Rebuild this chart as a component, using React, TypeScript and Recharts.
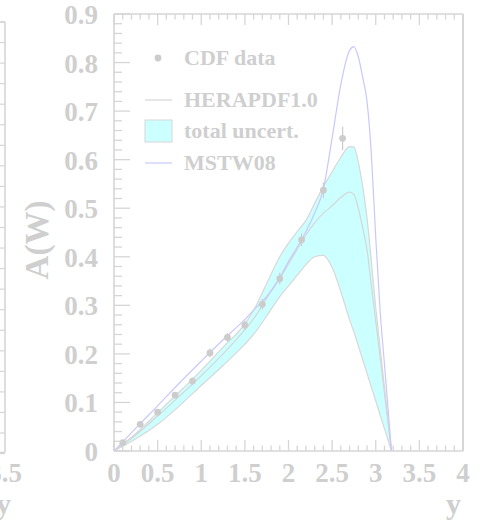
import React from 'react';
import { ComposedChart, XAxis, YAxis, Area, Line, Scatter, ErrorBar } from 'recharts';

// ---- data ----
const xGrid = [0, 0.25, 0.5, 0.75, 1.0, 1.25, 1.5, 1.6, 1.75, 1.9, 2.0, 2.1, 2.2, 2.3, 2.4, 2.5, 2.6, 2.7, 2.75, 2.8, 2.85, 2.9, 2.95, 3.0, 3.05, 3.1, 3.15, 3.18];
const bandLow = [0, 0.025, 0.055, 0.093, 0.135, 0.176, 0.22, 0.24, 0.278, 0.318, 0.34, 0.362, 0.384, 0.4, 0.403, 0.378, 0.328, 0.27, 0.245, 0.217, 0.188, 0.16, 0.131, 0.103, 0.074, 0.046, 0.017, 0];
const bandHigh = [0, 0.036, 0.079, 0.122, 0.166, 0.214, 0.262, 0.29, 0.345, 0.4, 0.428, 0.452, 0.475, 0.51, 0.545, 0.575, 0.605, 0.627, 0.626, 0.595, 0.545, 0.48, 0.39, 0.295, 0.213, 0.131, 0.049, 0];
const heraCentral = [0, 0.033, 0.072, 0.113, 0.155, 0.2, 0.25, 0.272, 0.315, 0.355, 0.385, 0.415, 0.445, 0.47, 0.49, 0.505, 0.522, 0.533, 0.528, 0.5, 0.46, 0.414, 0.34, 0.267, 0.193, 0.119, 0.044, 0];
const mstw08 = [0, 0.047, 0.093, 0.14, 0.185, 0.229, 0.271, 0.29, 0.318, 0.357, 0.39, 0.42, 0.452, 0.49, 0.54, 0.645, 0.755, 0.825, 0.833, 0.812, 0.77, 0.72, 0.61, 0.44, 0.289, 0.178, 0.067, 0];

const cdfRapidity = [0.1, 0.3, 0.5, 0.7, 0.9, 1.1, 1.3, 1.5, 1.7, 1.9, 2.15, 2.4, 2.62];
const cdfAsym = [0.017, 0.055, 0.08, 0.115, 0.144, 0.202, 0.234, 0.259, 0.302, 0.355, 0.435, 0.537, 0.644];
const cdfErr = [0.003, 0.004, 0.005, 0.006, 0.007, 0.009, 0.009, 0.01, 0.011, 0.012, 0.013, 0.016, 0.024];

const xTickLabels = ['0', '0.5', '1', '1.5', '2', '2.5', '3', '3.5', '4'];
const yTickLabels = ['0', '0.1', '0.2', '0.3', '0.4', '0.5', '0.6', '0.7', '0.8', '0.9'];

const curveData = xGrid.map((x, i) => ({
  x,
  band: [bandLow[i], bandHigh[i]],
  hera: heraCentral[i],
  mstw: mstw08[i],
}));
const cdfData = cdfRapidity.map((x, i) => ({ x, a: cdfAsym[i], err: cdfErr[i] }));

const xTicks: number[] = [];
for (let i = 0; i <= 40; i++) xTicks.push(i / 10);
const yTicks: number[] = [];
for (let i = 0; i <= 45; i++) yTicks.push(Math.round(i * 2) / 100);

// ---- style ----
const FONT = "'Liberation Serif','Times New Roman',serif";
const TEXT = '#cfcfcf';
const FRAME = '#d6d6d6';
const BAND_FILL = '#ccffff';
const BAND_EDGE = '#d8d8d8';
const HERA = '#d6d6d6';
const MSTW = '#c8c8ff';
const POINT = '#cccccc';

const near = (v: number, step: number) => Math.abs(v / step - Math.round(v / step)) < 1e-6;

const BottomTick = (p: any) => {
  const { x, y, payload } = p;
  const v = payload.value;
  const major = near(v, 0.5);
  return (
    <g>
      <line x1={x} x2={x} y1={y} y2={y - (major ? 11 : 5.5)} stroke={FRAME} strokeWidth={1.3} />
      {major && (
        <text x={x} y={y + 31} textAnchor="middle" fill={TEXT} fontFamily={FONT} fontWeight="bold" fontSize={27}>
          {xTickLabels[Math.round(v / 0.5)]}
        </text>
      )}
    </g>
  );
};
const TopTick = (p: any) => {
  const { x, y, payload } = p;
  const major = near(payload.value, 0.5);
  return <line x1={x} x2={x} y1={y} y2={y + (major ? 11 : 5.5)} stroke={FRAME} strokeWidth={1.3} />;
};
const LeftTick = (p: any) => {
  const { x, y, payload } = p;
  const v = payload.value;
  const major = near(v, 0.1);
  return (
    <g>
      <line x1={x} x2={x + (major ? 16 : 8)} y1={y} y2={y} stroke={FRAME} strokeWidth={1.3} />
      {major && (
        <text x={x - 16} y={y + 10} textAnchor="end" fill={TEXT} fontFamily={FONT} fontWeight="bold" fontSize={27}>
          {yTickLabels[Math.round(v / 0.1)]}
        </text>
      )}
    </g>
  );
};
const RightTick = (p: any) => {
  const { x, y, payload } = p;
  const major = near(payload.value, 0.1);
  return <line x1={x} x2={x - (major ? 16 : 8)} y1={y} y2={y} stroke={FRAME} strokeWidth={1.3} />;
};

const leftPanelTicks: number[] = [];
for (let i = 0; i <= 21; i++) leftPanelTicks.push(i);

export default function App() {
  return (
    <div style={{ position: 'absolute', left: 0, top: 0, width: 484, height: 524, background: '#fff', overflow: 'hidden' }}>
      <div style={{ position: 'absolute', left: 0, top: 0 }}>
        <ComposedChart width={484} height={524} data={curveData} margin={{ top: 0, right: 0, bottom: 0, left: 0 }}>
          <XAxis
            dataKey="x"
            type="number"
            domain={[0, 4]}
            ticks={xTicks}
            interval={0}
            height={73}
            tickSize={0}
            tickMargin={0}
            tickLine={false}
            tick={<BottomTick />}
            axisLine={{ stroke: FRAME, strokeWidth: 1.6 }}
          />
          <XAxis
            xAxisId="top"
            orientation="top"
            dataKey="x"
            type="number"
            domain={[0, 4]}
            ticks={xTicks}
            interval={0}
            height={14}
            tickSize={0}
            tickMargin={0}
            tickLine={false}
            tick={<TopTick />}
            axisLine={{ stroke: FRAME, strokeWidth: 1.6 }}
          />
          <YAxis
            type="number"
            domain={[0, 0.9]}
            ticks={yTicks}
            interval={0}
            width={114}
            tickSize={0}
            tickMargin={0}
            tickLine={false}
            tick={<LeftTick />}
            axisLine={{ stroke: FRAME, strokeWidth: 1.6 }}
          />
          <YAxis
            yAxisId="right"
            orientation="right"
            type="number"
            domain={[0, 0.9]}
            ticks={yTicks}
            interval={0}
            width={21}
            tickSize={0}
            tickMargin={0}
            tickLine={false}
            tick={<RightTick />}
            axisLine={{ stroke: FRAME, strokeWidth: 2 }}
          />
          <Area
            type="monotone"
            dataKey="band"
            fill={BAND_FILL}
            fillOpacity={1}
            stroke={BAND_EDGE}
            strokeWidth={1.2}
            isAnimationActive={false}
            dot={false}
            activeDot={false}
          />
          <Line type="monotone" dataKey="hera" stroke={HERA} strokeWidth={1.2} dot={false} activeDot={false} isAnimationActive={false} />
          <Line type="monotone" dataKey="mstw" stroke={MSTW} strokeWidth={1.2} dot={false} activeDot={false} isAnimationActive={false} />
          <Scatter data={cdfData} dataKey="a" fill={POINT} shape={(p: any) => <circle cx={p.cx} cy={p.cy} r={3.4} fill={POINT} />} isAnimationActive={false}>
            <ErrorBar dataKey="err" direction="y" width={0} stroke={POINT} strokeWidth={1.2} />
          </Scatter>
        </ComposedChart>
      </div>
      <svg width={484} height={524} style={{ position: 'absolute', left: 0, top: 0, pointerEvents: 'none' }}>
        {/* edge of the neighbouring panel */}
        <line x1={5} x2={5} y1={22} y2={452.5} stroke={FRAME} strokeWidth={1.6} />
        <line x1={0} x2={5} y1={22} y2={22} stroke={FRAME} strokeWidth={1.6} />
        <line x1={0} x2={5} y1={452.5} y2={452.5} stroke={FRAME} strokeWidth={1.6} />
        {leftPanelTicks.map((k) => (
          <line key={k} x1={0} x2={5} y1={22 + k * 20.55} y2={22 + k * 20.55} stroke={FRAME} strokeWidth={1.2} />
        ))}
        <text x={22} y={482} textAnchor="end" fill={TEXT} fontFamily={FONT} fontWeight="bold" fontSize={27}>3.5</text>
        <text x={11} y={514} textAnchor="end" fill={TEXT} fontFamily={FONT} fontWeight="bold" fontSize={30}>y</text>

        {/* axis titles */}
        <text x={461} y={514} textAnchor="end" fill={TEXT} fontFamily={FONT} fontWeight="bold" fontSize={30}>y</text>
        <text
          transform="translate(48,240) rotate(-90)"
          textAnchor="middle"
          fill={TEXT}
          fontFamily={FONT}
          fontWeight="bold"
          fontSize={33}
        >
          A(W)
        </text>

        {/* legend */}
        <circle cx={158} cy={58} r={3.4} fill={POINT} />
        <text x={184} y={65} fill={TEXT} fontFamily={FONT} fontWeight="bold" fontSize={22}>CDF data</text>
        <line x1={145} x2={172} y1={100} y2={100} stroke={HERA} strokeWidth={1.2} />
        <text x={184} y={107} fill={TEXT} fontFamily={FONT} fontWeight="bold" fontSize={22}>HERAPDF1.0</text>
        <rect x={145} y={120} width={27} height={22} fill={BAND_FILL} stroke={BAND_EDGE} strokeWidth={1} />
        <text x={184} y={138} fill={TEXT} fontFamily={FONT} fontWeight="bold" fontSize={22}>total uncert.</text>
        <line x1={145} x2={172} y1={163} y2={163} stroke={MSTW} strokeWidth={1.2} />
        <text x={184} y={170} fill={TEXT} fontFamily={FONT} fontWeight="bold" fontSize={22}>MSTW08</text>
      </svg>
    </div>
  );
}
